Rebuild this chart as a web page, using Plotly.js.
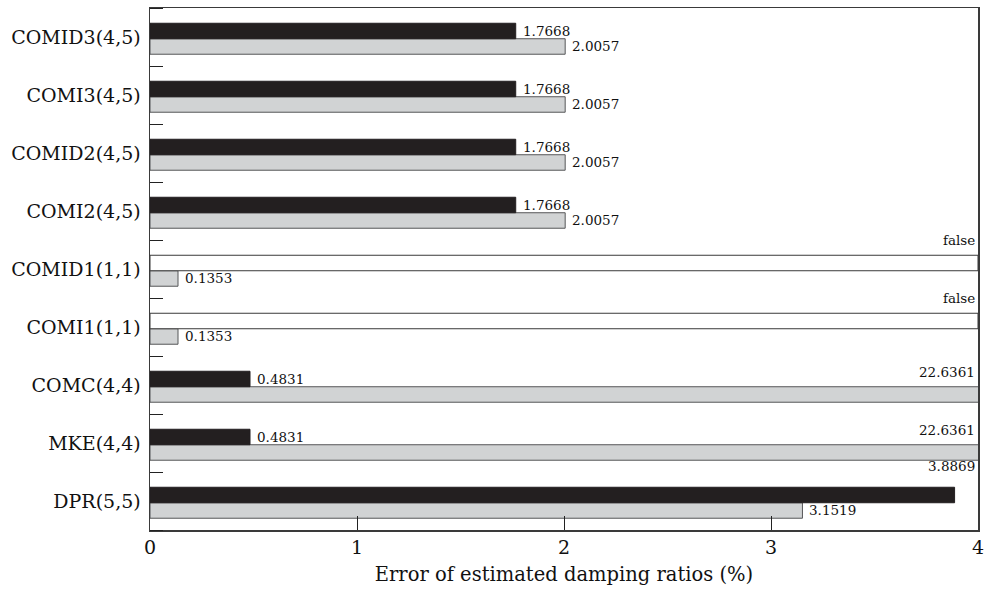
<!DOCTYPE html>
<html>
<head>
<meta charset="utf-8">
<script src="https://cdn.plot.ly/plotly-3.0.1.min.js"></script>
<style>html,body{margin:0;padding:0;background:#fff;}#chart{width:985px;height:595px;}</style>
</head>
<body>
<div id="chart"></div>
<script>
// ---- data ----
var categories = ['DPR(5,5)','MKE(4,4)','COMC(4,4)','COMI1(1,1)','COMID1(1,1)','COMI2(4,5)','COMID2(4,5)','COMI3(4,5)','COMID3(4,5)'];
var seriesDark = [3.8869, 0.4831, 0.4831, false, false, 1.7668, 1.7668, 1.7668, 1.7668];
var seriesLight = [3.1519, 22.6361, 22.6361, 0.1353, 0.1353, 2.0057, 2.0057, 2.0057, 2.0057];
var xTickVals = [0, 1, 2, 3, 4];
var xTickText = ['0', '1', '2', '3', '4'];
var xTitle = 'Error of estimated damping ratios (%)';

// ---- style ----
var FONT = 'DejaVu Serif, serif';
var TXT = '#111';
var xMax = 4;
var W = 0.267;            // bar thickness (category units)
var SHIFT = -0.03;        // group shift within its band
var DARK = '#231f20', LIGHT = '#d1d3d4', LIGHTLINE = '#555658', FRAME = '#3a3a3a';

var idx = categories.map(function(_, i){ return i; });
var boundaries = [];
for (var i = 0; i <= categories.length; i++) boundaries.push(i - 0.5);

var darkX = seriesDark.map(function(v){ return v === false ? null : v; });
var falseX = seriesDark.map(function(v){ return v === false ? xMax : null; });

var traces = [
  {type:'bar', orientation:'h', y: idx, x: seriesLight, offset: SHIFT - W, width: W,
   marker:{color: LIGHT, line:{color: LIGHTLINE, width: 1}}, hoverinfo:'none'},
  {type:'bar', orientation:'h', y: idx, x: darkX, offset: SHIFT, width: W,
   marker:{color: DARK, line:{color: DARK, width: 1}}, hoverinfo:'none'},
  {type:'bar', orientation:'h', y: idx, x: falseX, offset: SHIFT, width: W,
   marker:{color: '#ffffff', line:{color: FRAME, width: 1}}, hoverinfo:'none'}
];

var annotations = [];
function addLabels(series, offset) {
  series.forEach(function(v, i){
    var text = v === false ? 'false' : v.toFixed(4);
    var top = i + offset + W;
    var mid = i + offset + W / 2;
    var a = {text: text, showarrow:false, font:{family: FONT, size: 13.5, color: TXT}, xref:'x', yref:'y'};
    if (v === false || v > xMax) {
      a.x = xMax; a.xanchor = 'right'; a.xshift = -1;
      a.y = top; a.yanchor = 'bottom'; a.yshift = 5;
    } else if (v > xMax - 0.35) {
      a.x = xMax; a.xanchor = 'right'; a.xshift = -1;
      a.y = top; a.yanchor = 'bottom'; a.yshift = 11;
    } else {
      a.x = v; a.xanchor = 'left'; a.xshift = 5;
      a.y = mid; a.yanchor = 'middle';
    }
    annotations.push(a);
  });
}
addLabels(seriesDark, SHIFT);
addLabels(seriesLight, SHIFT - W);

var layout = {
  width: 985, height: 595,
  margin: {l: 150, r: 7, t: 8, b: 65},
  paper_bgcolor: '#fff', plot_bgcolor: '#fff',
  barmode: 'overlay',
  showlegend: false,
  font: {family: FONT, color: TXT},
  xaxis: {
    range: [0, xMax], tickmode: 'array', tickvals: xTickVals, ticktext: xTickText,
    ticks: 'inside', ticklen: 14, tickwidth: 1, tickcolor: '#222',
    showgrid: false, zeroline: false, showline: true, linecolor: FRAME, linewidth: 1.5, mirror: true,
    tickfont: {family: FONT, size: 19, color: TXT},
    title: {text: xTitle, font: {family: FONT, size: 19.5, color: TXT}, standoff: 10}
  },
  yaxis: {
    range: [-0.5, categories.length - 0.5], tickmode: 'array', tickvals: idx, ticktext: categories,
    ticks: '', showgrid: false, zeroline: false, showline: true, linecolor: FRAME, linewidth: 1.5, mirror: true,
    tickfont: {family: FONT, size: 19, color: TXT}, ticklabelstandoff: 4,
    minor: {tickmode: 'array', tickvals: boundaries, ticks: 'inside', ticklen: 13, tickwidth: 1, tickcolor: '#222', showgrid: false}
  },
  annotations: annotations
};

Plotly.newPlot('chart', traces, layout, {staticPlot: true, displayModeBar: false});
</script>
</body>
</html>
